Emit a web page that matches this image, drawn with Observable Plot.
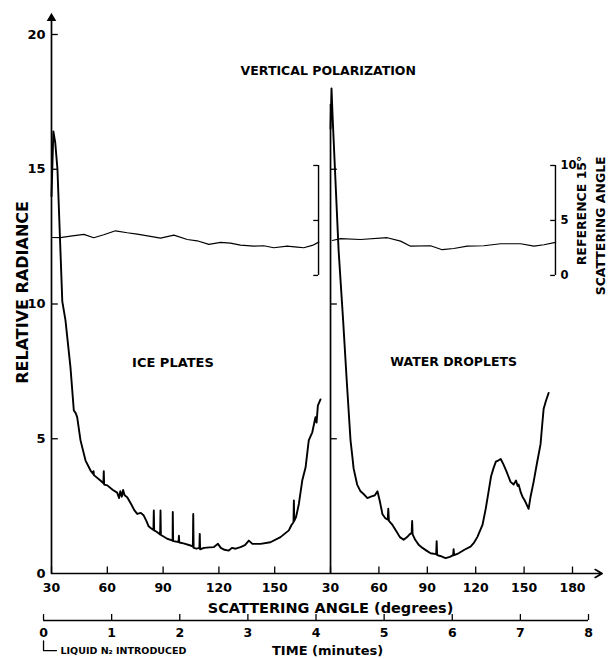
<!DOCTYPE html>
<html><head><meta charset="utf-8">
<script src="https://cdn.jsdelivr.net/npm/d3@7"></script>
<script src="https://cdn.jsdelivr.net/npm/@observablehq/plot@0.6"></script>
<style>html,body{margin:0;padding:0;background:#fff;} svg{display:block}</style>
</head><body><div id="chart"></div>
<script>
// ---- data ----
// Ice plates: scattering angle (deg) vs relative radiance
const iceAngle = [30,31,32,33.2,35.8,37.5,40.2,42,43,43.8,45.6,48.3,51,52.4,52.6,52.8,56.3,57.9,58.1,58.3,60,63,65.3,66.3,67,67.8,68.5,69.3,70.7,73,74.5,76.1,78,79.6,81,82.2,83.5,84.8,85,85.2,86.5,88.4,88.6,88.8,90,92.2,94,95.1,95.2,95.4,98.3,98.5,98.7,101,104.7,106,106.2,106.4,108,109.5,109.7,109.9,112,115,117.3,119.5,121,123,125.3,127,129,131.6,134,136.1,138,142.4,147.7,153.1,157.6,159,160.1,160.3,160.5,161.5,163,164.8,166.6,168.3,169.3,170.2,171.9,172.5,173.2,174.6];
const iceValue = [14.0,16.4,16.0,15.0,10.1,9.4,7.65,6.05,5.95,5.8,4.94,4.19,3.82,3.7,3.8,3.65,3.45,3.35,3.8,3.3,3.27,3.1,3.0,2.8,3.05,2.85,3.1,2.9,2.83,2.55,2.35,2.21,2.25,2.15,1.95,1.75,1.68,1.62,2.34,1.6,1.55,1.45,2.34,1.43,1.38,1.29,1.25,1.22,2.28,1.2,1.17,1.4,1.15,1.12,1.04,1.0,2.21,0.95,0.92,0.95,1.47,0.9,0.95,0.97,0.98,1.1,0.95,0.88,0.85,0.95,0.92,0.98,1.05,1.22,1.1,1.1,1.16,1.35,1.6,1.8,1.9,2.71,1.95,2.1,2.59,3.45,3.94,4.94,5.1,5.24,5.8,5.6,6.23,6.46];
// Water droplets
const waterAngle = [30,30.6,31.4,32.7,35,37.8,40,42.4,43.6,44.3,46.5,48.6,50.5,52.9,55,57.5,59.1,60.5,62.2,64,65.5,65.8,66.2,68.4,71,73,75.3,77.5,79,80.3,80.6,80.9,82.5,84.6,87,89.5,92,95.5,95.8,96.1,98,101.3,104,106,106.3,106.6,109.4,113,116.8,119,121,124.2,126.2,128,129.5,131,132.5,134.2,135.5,137.2,139,140.3,141.6,143.5,145,146,146.6,148,149,150.5,152.8,154,155.9,158,160.2,161.2,162.1,163.5,165.2];
const waterValue = [16.5,18.0,16.8,15.06,12,9.4,7.2,4.94,4.3,3.9,3.3,3.05,2.95,2.8,2.85,2.9,3.05,2.7,2.2,2.05,2.0,2.4,1.95,1.8,1.55,1.35,1.25,1.35,1.45,1.5,1.95,1.45,1.25,1.07,0.95,0.85,0.75,0.72,1.2,0.68,0.65,0.57,0.62,0.68,0.9,0.68,0.75,0.88,1.0,1.15,1.35,1.8,2.4,3.05,3.6,3.9,4.15,4.2,4.25,4.05,3.8,3.6,3.4,3.3,3.45,3.25,3.3,3.0,2.85,2.7,2.4,2.85,3.4,4.1,4.8,5.5,6.1,6.4,6.7];
// Reference 15° scattering angle trace (reference scale 0–10)
const refLeftAngle = [30.5,34.8,40.2,47.4,52.7,58.1,64.4,70.7,76.1,83.2,88.6,95.8,103,108.3,114.6,120.9,126.2,131.6,138.8,144.1,149.5,156.7,162.1,165.6,170.2,173.7];
const refLeftValue = [3.45,3.43,3.57,3.73,3.43,3.7,4.06,3.88,3.75,3.55,3.39,3.66,3.27,3.15,2.82,3.0,2.94,2.75,2.66,2.7,2.52,2.66,2.57,2.52,2.73,3.03];
const refRightAngle = [31.1,36.2,48.6,65.2,73.4,79.6,92,99.2,106.4,114.7,125,135.4,147.8,156.1,162.3,169.5];
const refRightValue = [3.18,3.34,3.27,3.43,3.12,2.66,2.7,2.34,2.45,2.66,2.7,2.88,2.88,2.66,2.79,3.0];
// axes
const yTicks = [0,5,10,15,20];
const leftAngleTicks = [30,60,90,120,150];
const rightAngleTicks = [30,60,90,120,150,180];
const timeTicks = [0,1,2,3,4,5,6,7,8];
const refTicks = [0,5,10];
// time (minutes) at which each angular scan starts and ends
const leftScanTime = [0.117,4.213];
const rightScanTime = [4.213,7.765];

// ---- layout constants ----
const REF0 = 11.06, REFK = 0.408;      // where the reference trace sits on the radiance axis
const refY = r => REF0 + r*REFK;
const bracketTimes = [4.037, 7.515];
const T0 = leftScanTime[0], TM = leftScanTime[1];
const toTime = (a, scan) => scan[0] + (a - 30) / 150 * (scan[1] - scan[0]);
const rows = (angles, values, scan, f = v => v) => angles.map((a, i) => ({t: toTime(a, scan), v: f(values[i])}));

const ice = rows(iceAngle, iceValue, leftScanTime);
const water = rows(waterAngle, waterValue, rightScanTime);
const refL = rows(refLeftAngle, refLeftValue, leftScanTime, refY);
const refR = rows(refRightAngle, refRightValue, rightScanTime, refY);
const angleTickRows = [
  ...leftAngleTicks.map(a => ({t: toTime(a, leftScanTime), label: String(a)})),
  ...rightAngleTicks.map(a => ({t: toTime(a, rightScanTime), label: String(a)}))
];
const bracketStubs = bracketTimes.flatMap(b => refTicks.map(r => ({b, r})));

const chart = Plot.plot({
  width: 608, height: 659,
  marginLeft: 51, marginRight: 20, marginTop: 34, marginBottom: 86,
  x: {domain: [T0, 8], axis: null},
  y: {domain: [0, 20], axis: null},
  style: {fontFamily: "'DejaVu Sans', sans-serif", fontWeight: "bold", fontSize: "12px", color: "#000", background: "#fff", overflow: "visible"},
  marks: [
    // left radiance axis
    Plot.ruleX([T0], {y1: 0, y2: 20.6, strokeWidth: 1.7}),
    Plot.dot([T0], {x: d => d, y: 20.6, symbol: "triangle", r: 2.6, fill: "black", stroke: "black"}),
    Plot.ruleY(yTicks.filter(d => d > 0), {x1: T0, x2: T0 + 0.1, strokeWidth: 1.3}),
    Plot.text(yTicks, {x: T0, y: d => d, text: d => String(d), textAnchor: "end", dx: -6, fontSize: 13}),
    // middle axis
    Plot.ruleX([TM], {y1: 0, y2: 17.4, strokeWidth: 1.7}),
    Plot.ruleY([5, 10, 15], {x1: TM, x2: TM + 0.1, strokeWidth: 1.3}),
    // scattering-angle axis
    Plot.arrow([0], {x1: T0, x2: 8.2, y1: 0, y2: 0, headLength: 7, strokeWidth: 1.7}),
    Plot.ruleX(angleTickRows, {x: "t", y1: 0, y2: 0.24, strokeWidth: 1.3}),
    Plot.text(angleTickRows, {x: "t", y: 0, text: "label", dy: 14, fontSize: 12.5}),
    Plot.text(["SCATTERING ANGLE (degrees)"], {x: TM, y: 0, dy: 35, fontSize: 14.5, letterSpacing: "0.6px"}),
    // time axis
    Plot.ruleY([0], {x1: 0, x2: 8, dy: 47, strokeWidth: 1.5}),
    Plot.ruleX(timeTicks, {y1: 0, y2: 0.22, dy: 47, strokeWidth: 1.3}),
    Plot.text(timeTicks, {x: d => d, y: 0, dy: 59, fontSize: 12.5}),
    Plot.text(["TIME (minutes)"], {x: 4.17, y: 0, dy: 77, fontSize: 13, letterSpacing: "0.3px"}),
    Plot.line([{x: 0, y: -2.5}, {x: 0, y: -2.86}, {x: 0.19, y: -2.86}], {x: "x", y: "y", strokeWidth: 1.3}),
    Plot.text(["LIQUID N₂ INTRODUCED"], {x: 0, y: 0, dx: 17, dy: 77, textAnchor: "start", fontSize: 9.5}),
    // reference brackets
    Plot.ruleX(bracketTimes, {y1: refY(0), y2: refY(10), strokeWidth: 1.4}),
    Plot.ruleY(bracketStubs, {x1: d => d.b - 0.07, x2: d => d.b, y: d => refY(d.r), strokeWidth: 1.3}),
    Plot.text(refTicks, {x: bracketTimes[1], y: d => refY(d), text: d => String(d), dx: 5, textAnchor: "start", fontSize: 11.5}),
    Plot.text(["REFERENCE 15°"], {x: 7.91, y: 13.47, rotate: -90, fontSize: 12.5, letterSpacing: "0.6px"}),
    Plot.text(["SCATTERING ANGLE"], {x: 8.18, y: 12.9, rotate: -90, fontSize: 12.5, letterSpacing: "0.6px"}),
    // curves
    Plot.line(refL, {x: "t", y: "v", strokeWidth: 1.2}),
    Plot.line(refR, {x: "t", y: "v", strokeWidth: 1.2}),
    Plot.line(ice, {x: "t", y: "v", strokeWidth: 1.9}),
    Plot.line(water, {x: "t", y: "v", strokeWidth: 1.9}),
    // annotations
    Plot.text(["VERTICAL POLARIZATION"], {x: 4.18, y: 18.63, fontSize: 12.5, letterSpacing: "1px"}),
    Plot.text(["ICE PLATES"], {x: 1.90, y: 7.83, fontSize: 13, letterSpacing: "0.8px"}),
    Plot.text(["WATER DROPLETS"], {x: 6.02, y: 7.83, fontSize: 12.5, letterSpacing: "0.7px"}),
    Plot.text(["RELATIVE RADIANCE"], {x: T0, y: 10.43, dx: -29, rotate: -90, fontSize: 16, letterSpacing: "0.8px"})
  ]
});
document.getElementById("chart").append(chart);
</script>
</body></html>
